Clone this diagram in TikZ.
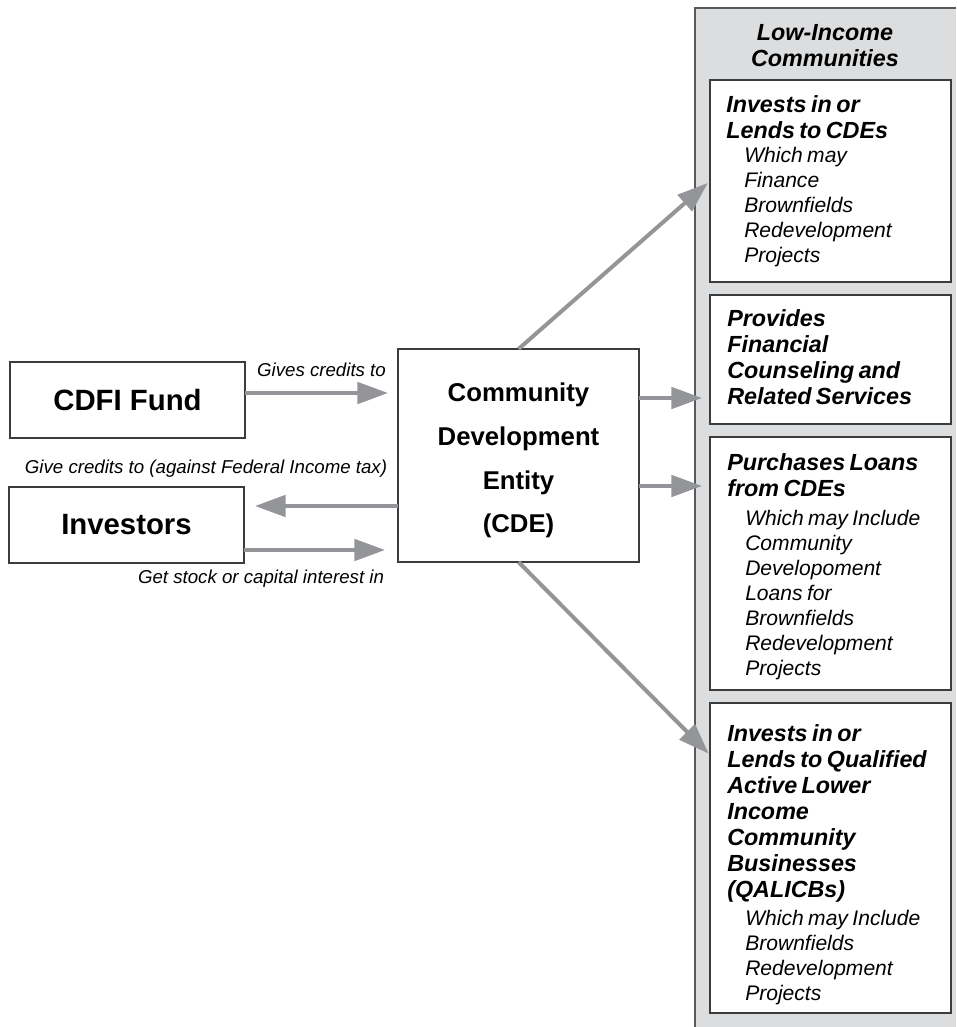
\documentclass[tikz,border=0pt]{standalone}
\usepackage{fontspec}
\setmainfont{Liberation Sans}
\usetikzlibrary{arrows.meta,calc}
\definecolor{arrowgray}{RGB}{147,149,152}
\definecolor{panelfill}{RGB}{220,221,223}
\definecolor{panelline}{RGB}{88,89,91}
\definecolor{boxline}{RGB}{60,60,60}
\setlength{\parindent}{0pt}
\newcommand{\headlines}[1]{{\fontsize{17.5}{19.5}\selectfont\bfseries\itshape #1\par}}
\newcommand{\sublines}[1]{{\fontsize{15.8}{18.75}\selectfont\itshape\leftskip=13.5pt #1\par}}
\begin{document}
\begin{tikzpicture}[x=0.75pt, y=-0.75pt,
        box/.style={draw=boxline, line width=1.1pt, fill=white, inner sep=0pt, outer sep=0pt},
        boxtext/.style={anchor=north west, inner sep=0pt, text width=170pt, align=left},
        flow/.style={draw=arrowgray, line width=3pt, -{Triangle[length=23pt, width=16pt]}},
        lbl/.style={font=\fontsize{14}{16}\selectfont\itshape, inner sep=0pt}]
        \useasboundingbox (0, 0) rectangle (956, 1027);

        \fill[panelfill] (695, 8) rectangle (956, 1027);
        \draw[panelline, line width=1.5pt] (695, 1027) -- (695, 8) -- (956, 8);

        \node[font=\fontsize{17.5}{19.2}\selectfont\bfseries\itshape, align=center, inner sep=0pt] (lic) at (825, 45.5) {Low-Income\\Communities};

        \node[box, minimum width=176.25pt, minimum height=57pt, font=\fontsize{22}{26}\selectfont\bfseries] (fund) at (127.5, 400) {CDFI Fund};
        \node[box, minimum width=176.25pt, minimum height=57pt, font=\fontsize{22}{26}\selectfont\bfseries] (inv) at (126.5, 525) {Investors};
        \node[box, minimum width=180.75pt, minimum height=159.75pt] (cde) at (518.5, 455.5) {};
        \node[align=center, inner sep=0pt, font=\fontsize{19.3}{32.8}\selectfont\bfseries] (cdetext) at ($(cde.center)+(0, 5)$) {Community\\Development\\Entity\\(CDE)};

        \node[box, minimum width=180.75pt, minimum height=151.5pt] (b1) at (830.5, 181) {};
        \node[box, minimum width=180.75pt, minimum height=96.75pt] (b2) at (830.5, 359.5) {};
        \node[box, minimum width=180.75pt, minimum height=189.75pt] (b3) at (830.5, 563.5) {};
        \node[box, minimum width=180.75pt, minimum height=232.5pt] (b4) at (830.5, 858) {};

        \node[boxtext] (t1) at ($(b1.north west)+(16, 15)$) {\headlines{Invests in or\\Lends to CDEs}\vspace{-0.5pt}\sublines{Which may\\Finance\\Brownfields\\Redevelopment\\Projects}};
        \node[boxtext] (t2) at ($(b2.north west)+(17, 14.5)$) {\headlines{Provides\\Financial\\Counseling and\\Related Services}};
        \node[boxtext] (t3) at ($(b3.north west)+(17, 16.5)$) {\headlines{Purchases Loans\\from CDEs}\vspace{2.5pt}\sublines{Which may Include\\Community\\Developoment\\Loans for\\Brownfields\\Redevelopment\\Projects}};
        \node[boxtext] (t4) at ($(b4.north west)+(17, 21)$) {\headlines{Invests in or\\Lends to Qualified\\Active Lower\\Income\\Community\\Businesses\\(QALICBs)}\vspace{2.5pt}\sublines{Which may Include\\Brownfields\\Redevelopment\\Projects}};

        \coordinate (c1) at ($(fund.east)+(0, -7)$);
        \coordinate (c2) at ($(cde.west)+(0, 50.5)$);
        \coordinate (c3) at ($(inv.east)+(0, 25)$);
        \coordinate (c5) at ($(cde.east)+(0, -57.5)$);
        \coordinate (c6) at ($(cde.east)+(0, 30.5)$);
        \coordinate (c7) at ($(b4.north west)+(0, 52)$);

        \draw[flow, shorten >=7.5pt] (c1) -- node[lbl, midway, above=10.5pt] {Gives credits to} (c1 -| cde.west);
        \draw[flow, shorten >=8.25pt] (c2) -- (c2 -| inv.east);
        \draw[flow, shorten >=9.75pt] (c3) -- (c3 -| cde.west);
        \draw[flow, shorten >=2.25pt] (cde.north) -- (b1.west);
        \draw[flow, shorten >=6pt] (c5) -- (c5 -| b2.west);
        \draw[flow, shorten >=6pt] (c6) -- (c6 -| b3.west);
        \draw[flow, shorten >=1.5pt] (cde.south) -- (c7);

        \node[lbl, anchor=base] (give) at (206, 473) {Give credits to (against Federal Income tax)};
        \node[lbl, anchor=base] (get) at (261, 583) {Get stock or capital interest in};
\end{tikzpicture}
\end{document}
